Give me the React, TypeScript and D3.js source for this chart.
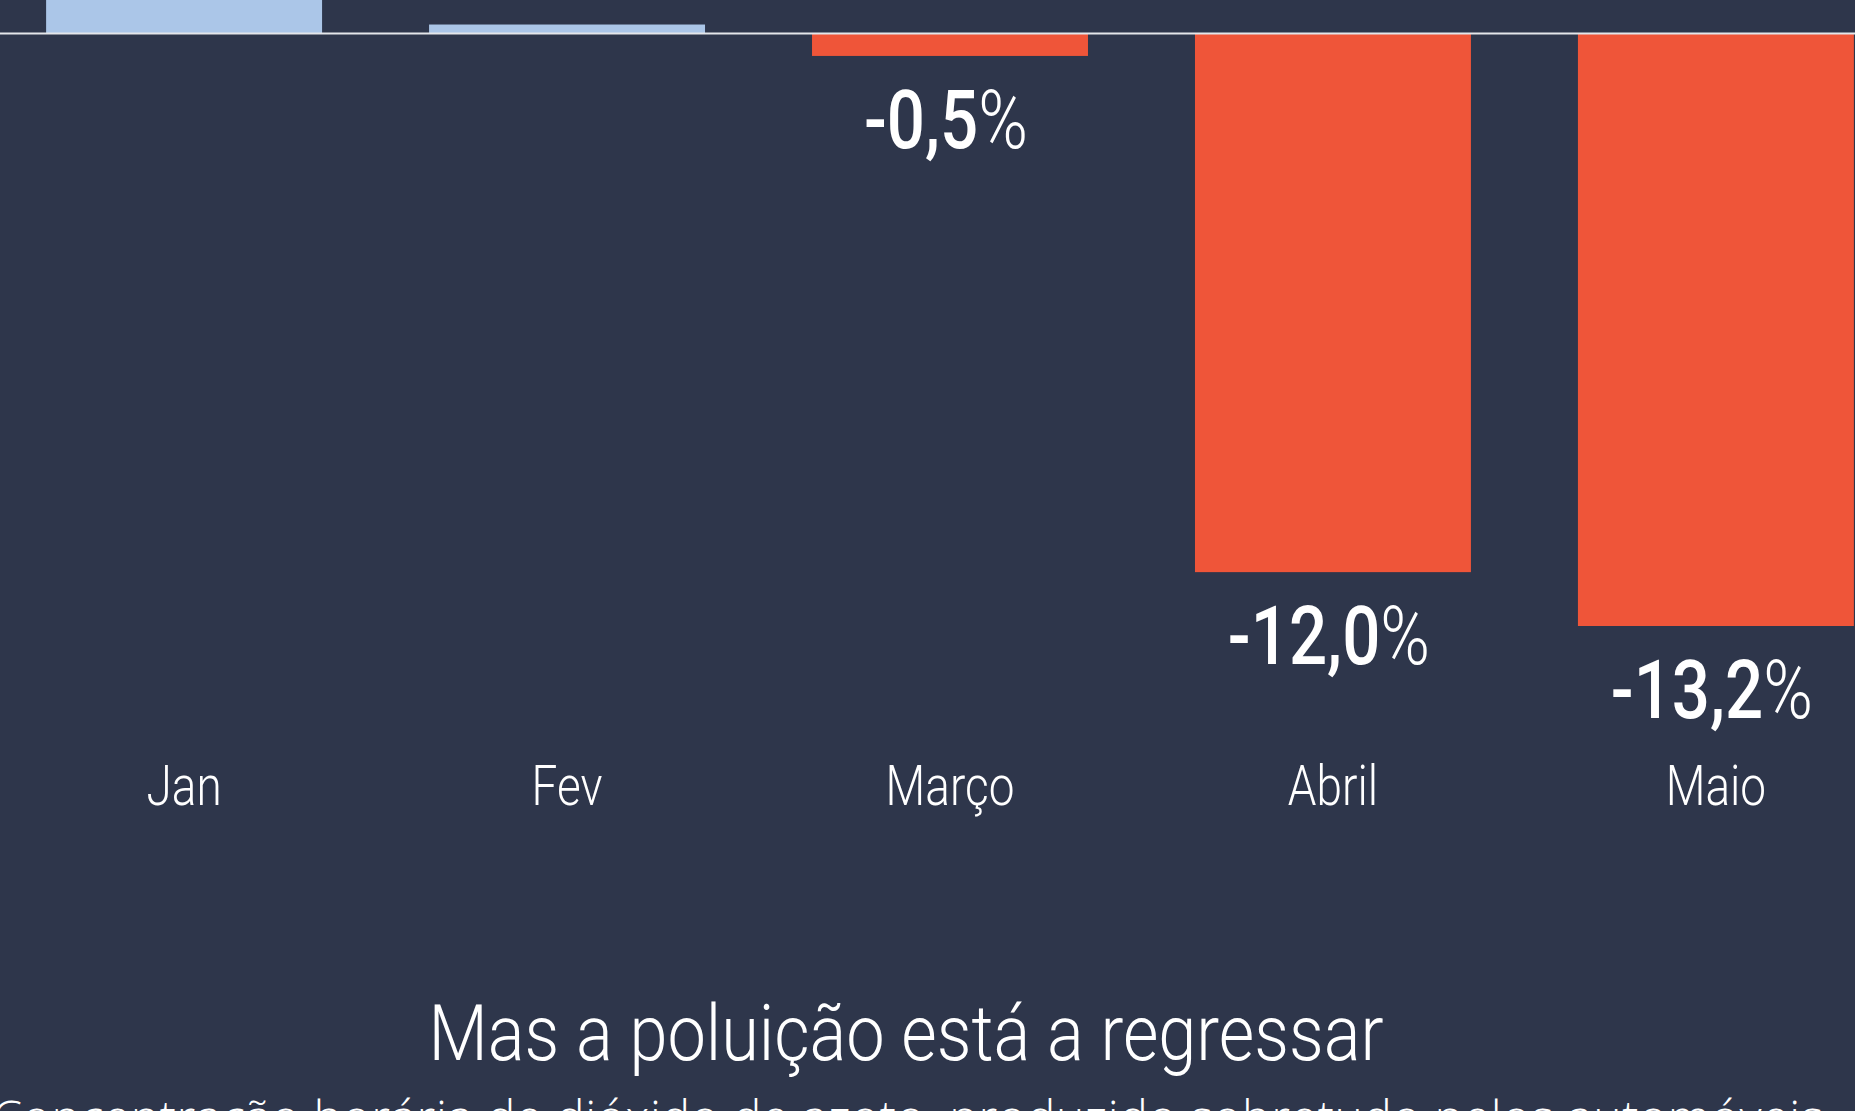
import * as d3 from 'd3';

const months = ['Jan', 'Fev', 'Março', 'Abril', 'Maio'];
const changes = [3.4, 0.2, -0.5, -12.0, -13.2];
const title = 'Mas a poluição está a regressar';
const subtitle = 'Concentração horária de dióxido de azoto, produzido sobretudo pelos automóveis';

const W = 1855;
const H = 1111;
const BG = '#2e364b';
const BLUE = '#abc6e8';
const RED = '#ef5539';
const SQUEEZE = 0.82; // the original font is a condensed one

const fmt = (v: number) => (v > 0 ? '+' : '') + v.toFixed(1).replace('.', ',');

export default function App() {
  const x = d3.scaleBand<string>()
    .domain(months)
    .range([-7.5, 1907.5])
    .paddingInner(0.2794)
    .paddingOuter(0.14);

  const y = d3.scaleLinear().domain([0, -13.2]).range([33.5, 626]);

  const monthY = 805;
  const centerX = 906;

  return (
    <svg
      width={W}
      height={H}
      style={{ position: 'absolute', left: 0, top: 0, background: BG }}
    >
      <rect width={W} height={H} fill={BG} />

      {/* Bars */}
      {months.map((m, i) => {
        const v = changes[i];
        const y0 = y(0);
        const y1 = y(v);
        return (
          <rect
            key={m}
            x={x(m)}
            width={x.bandwidth()}
            y={Math.min(y0, y1)}
            height={Math.abs(y1 - y0)}
            fill={v >= 0 ? BLUE : RED}
          />
        );
      })}

      {/* Zero line */}
      <line x1={0} x2={W} y1={y(0)} y2={y(0)} stroke="#e4e6ea" strokeWidth={2} />

      {/* Value labels (positive ones sit above the frame) */}
      {months.map((m, i) => {
        const v = changes[i];
        const cx = (x(m) ?? 0) + x.bandwidth() / 2 - 4;
        const ty = v >= 0 ? y(v) - 50 : y(v) + 92;
        return (
          <text
            key={m}
            transform={`translate(${cx},${ty}) scale(${SQUEEZE},1)`}
            textAnchor="middle"
            fontFamily="Roboto, sans-serif"
            fontSize={82}
            fill="#ffffff"
          >
            <tspan fontWeight={500}>{fmt(v)}</tspan>
            <tspan fontWeight={300}>%</tspan>
          </text>
        );
      })}

      {/* Month labels */}
      {months.map((m) => (
        <text
          key={m}
          transform={`translate(${(x(m) ?? 0) + x.bandwidth() / 2},${monthY}) scale(${SQUEEZE},1)`}
          textAnchor="middle"
          fontFamily="Roboto, sans-serif"
          fontWeight={300}
          fontSize={56}
          fill="#ffffff"
        >
          {m}
        </text>
      ))}

      {/* Title */}
      <text
        transform={`translate(${centerX},1060) scale(0.89,1)`}
        textAnchor="middle"
        fontFamily="Roboto, sans-serif"
        fontWeight={300}
        fontSize={77}
        fill="#ffffff"
      >
        {title}
      </text>

      {/* Subtitle (cut by the frame) */}
      <text
        x={centerX + 2}
        y={1135}
        textAnchor="middle"
        fontFamily="'Open Sans', sans-serif"
        fontWeight={300}
        fontSize={48}
        letterSpacing={0.65}
        fill="#ffffff"
      >
        {subtitle}
      </text>
    </svg>
  );
}
